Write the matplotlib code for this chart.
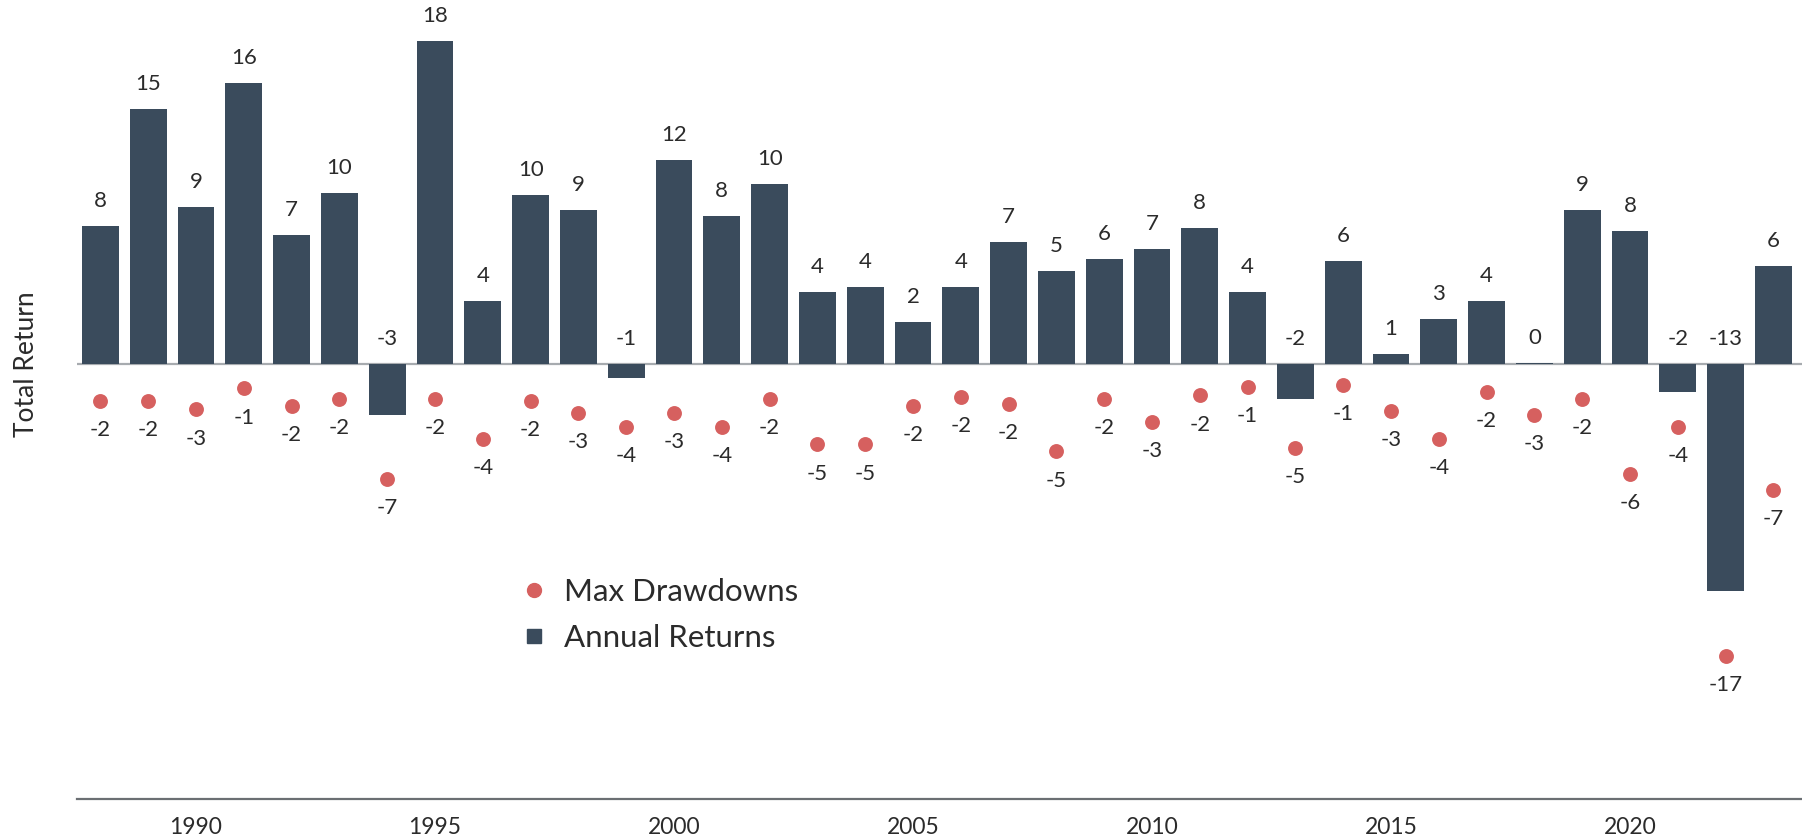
import matplotlib
matplotlib.use("Agg")
import matplotlib.pyplot as plt
from matplotlib.lines import Line2D
import numpy as np

plt.rcParams['font.family'] = ['Lato', 'DejaVu Sans']

years = list(range(1988, 2024))
annual_returns = [7.9, 14.6, 9.0, 16.1, 7.4, 9.8, -2.9, 18.5, 3.6, 9.7,
                  8.8, -0.8, 11.7, 8.5, 10.3, 4.1, 4.4, 2.4, 4.4, 7.0,
                  5.3, 6.0, 6.6, 7.8, 4.1, -2.0, 5.9, 0.6, 2.6, 3.6,
                  0.05, 8.8, 7.6, -1.6, -13.0, 5.6]
max_drawdowns = [-2.1, -2.1, -2.6, -1.4, -2.4, -2.0, -6.6, -2.0, -4.3, -2.1,
                 -2.8, -3.6, -2.8, -3.6, -2.0, -4.6, -4.6, -2.4, -1.9, -2.3,
                 -5.0, -2.0, -3.3, -1.8, -1.3, -4.8, -1.2, -2.7, -4.3, -1.6,
                 -2.9, -2.0, -6.3, -3.6, -16.7, -7.2]
tick_years = [1990, 1995, 2000, 2005, 2010, 2015, 2020]

BAR = '#3a4b5c'
DOT = '#d6605f'
TXT = '#2b2b2b'

W, H = 1802, 840
fig = plt.figure(figsize=(W / 100, H / 100), dpi=100)
ax = fig.add_axes([77 / W, 1 - 799 / H, 1 - 77 / W, 799 / H])

ax.axhline(0, color='#a7abaf', lw=1.6, zorder=1)
ax.bar(years, annual_returns, width=0.77, color=BAR, zorder=2)
ax.scatter(years, max_drawdowns, s=115, color=DOT, zorder=3, linewidths=0)

for x, v in zip(years, annual_returns):
    lab = int(np.round(v))
    ax.annotate(f"{lab}", (x, max(v, 0)), xytext=(0, 18), textcoords='offset points',
                ha='center', va='center', fontsize=16, color=TXT)
for x, v in zip(years, max_drawdowns):
    lab = int(np.round(v))
    ax.annotate(f"{lab}", (x, v), xytext=(0, -21), textcoords='offset points',
                ha='center', va='center', fontsize=16, color=TXT)

ax.set_xlim(1987.51, 2023.6)
ax.set_ylim(-24.9, 20.84)
ax.set_xticks(tick_years)
ax.set_xticklabels([str(t) for t in tick_years])
ax.tick_params(axis='x', length=0, pad=13, labelsize=16.5, labelcolor=TXT)
ax.set_yticks([])
for s in ['top', 'right', 'left']:
    ax.spines[s].set_visible(False)
ax.spines['bottom'].set_color('#6b6f73')
ax.spines['bottom'].set_linewidth(1.6)

fig.text(27 / W, 1 - 364 / H, 'Total Return', rotation=90, ha='center', va='center',
         fontsize=19, color=TXT)

handles = [Line2D([], [], marker='o', ls='none', color=DOT, markersize=10),
           Line2D([], [], marker='s', ls='none', color=BAR, markersize=10)]
fig.legend(handles, ['Max Drawdowns', 'Annual Returns'], loc='upper left',
           bbox_to_anchor=(503 / W, 1 - 562 / H), frameon=False, fontsize=22.5,
           handlelength=1.0, handletextpad=0.45, labelspacing=0.6, borderpad=0,
           labelcolor=TXT)

fig.savefig('out.png', dpi=100)
